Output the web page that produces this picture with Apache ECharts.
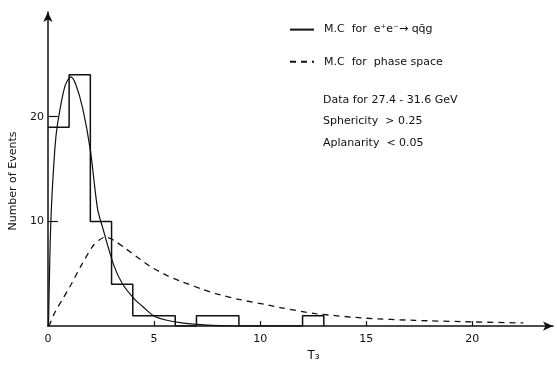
<!DOCTYPE html>
<html>
<head>
<meta charset="utf-8">
<script src="https://cdn.jsdelivr.net/npm/echarts@6/dist/echarts.min.js"></script>
<style>
  html, body { margin: 0; padding: 0; background: #fff; }
  #chart { width: 557px; height: 367px; }
</style>
</head>
<body>
<div id="chart"></div>
<script>
// T3 histogram: bin edges and event counts per bin
const binEdges = [0, 1, 2, 3, 4, 5, 6, 7, 8, 9, 10, 11, 12, 13];
const binCounts = [19, 24, 10, 4, 1, 1, 0, 1, 1, 0, 0, 0, 1];

// Monte Carlo prediction for e+e- -> q qbar g
const qqgT3 = [0.03, 0.14, 0.33, 0.47, 0.8, 1.08, 1.31, 1.64, 2.0, 2.34, 2.58, 3.09, 3.51, 4.07, 4.45, 5.06, 6.3, 7.5, 9];
const qqgN  = [0, 10, 17, 19.5, 22.9, 23.8, 23.1, 20.8, 16.8, 11.2, 9.4, 5.9, 4.05, 2.6, 1.9, 0.9, 0.3, 0.1, 0];

// Monte Carlo prediction for phase space
const psT3 = [0.05, 0.35, 0.7, 1.1, 1.6, 2.1, 2.4, 2.7, 3.1, 3.6, 4.2, 4.9, 5.6, 6.3, 7.3, 7.9, 9.0, 10.4, 11.0, 12.6, 15.0, 17.3, 20.0, 22.4];
const psN  = [0, 1.4, 2.6, 4.0, 5.9, 7.6, 8.2, 8.5, 8.2, 7.5, 6.6, 5.6, 4.85, 4.25, 3.5, 3.1, 2.55, 2.0, 1.75, 1.2, 0.75, 0.55, 0.4, 0.3];

// Axis tick labels
const xTickLabels = [0, 5, 10, 15, 20];
const yTickLabels = [10, 20];

const seriesNames = ['M.C  for  e\u207Ae\u207B\u2192 qq\u0304g', 'M.C  for  phase space'];
const infoLines = ['Data for 27.4 - 31.6 GeV', 'Sphericity  > 0.25', 'Aplanarity  < 0.05'];

const ink = '#111';
const font = 'DejaVu Sans';

// step outline of the histogram: one point at each bin's left edge, closed at the last edge
const histPoints = binCounts.map((c, i) => [binEdges[i], c]);
histPoints.push([binEdges[binEdges.length - 1], 0]);

const zip = (xs, ys) => xs.map((x, i) => [x, ys[i]]);

const chart = echarts.init(document.getElementById('chart'), null, { renderer: 'canvas' });
chart.setOption({
  animation: false,
  backgroundColor: '#fff',
  textStyle: { fontFamily: font, color: ink },
  grid: { left: 45, top: 12, right: 4, bottom: 37, containLabel: false },
  title: {
    text: infoLines.join('\n'),
    left: 323, top: 89, padding: 0,
    textStyle: { fontFamily: font, fontSize: 11, fontWeight: 'normal', color: ink, lineHeight: 21.5 }
  },
  legend: {
    data: seriesNames,
    orient: 'vertical',
    left: 284, top: 19,
    itemWidth: 24, itemHeight: 14, itemGap: 21,
    itemStyle: { opacity: 0 },
    textStyle: { fontFamily: font, fontSize: 11, color: ink, padding: [0, 0, 0, 5] }
  },
  xAxis: {
    type: 'value', min: 0, max: 23.8,
    name: 'T\u2083', nameLocation: 'middle', nameGap: 21,
    nameTextStyle: { fontFamily: font, fontSize: 12, color: ink, padding: [0, 0, 0, 26] },
    axisLine: { lineStyle: { color: ink, width: 1.5 }, symbol: ['none', 'arrow'], symbolSize: [7, 10] },
    axisTick: { inside: true, length: 5, customValues: [5, 10, 15, 20], lineStyle: { color: ink, width: 1.2 } },
    axisLabel: { customValues: xTickLabels, fontSize: 11, color: ink, margin: 8 },
    splitLine: { show: false }
  },
  yAxis: {
    type: 'value', min: 0, max: 30,
    name: 'Number of Events', nameLocation: 'middle', nameGap: 24, nameRotate: 90,
    nameTextStyle: { fontFamily: font, fontSize: 11, color: ink, padding: [0, 24, 0, 0] },
    axisLine: { lineStyle: { color: ink, width: 1.5 }, symbol: ['none', 'arrow'], symbolSize: [7, 10] },
    axisTick: { inside: true, length: 10, customValues: [10, 20], lineStyle: { color: ink, width: 1.2 } },
    axisLabel: { customValues: yTickLabels, fontSize: 11, color: ink, margin: 4 },
    splitLine: { show: false }
  },
  series: [
    {
      name: 'data',
      type: 'line', step: 'end', showSymbol: false, silent: true,
      data: histPoints,
      lineStyle: { color: ink, width: 1.5 }
    },
    {
      name: seriesNames[0],
      type: 'line', smooth: 0.3, showSymbol: false, symbol: 'none',
      data: zip(qqgT3, qqgN),
      lineStyle: { color: ink, width: 1.2 },
      itemStyle: { color: ink }
    },
    {
      name: seriesNames[1],
      type: 'line', smooth: 0.25, showSymbol: false, symbol: 'none',
      data: zip(psT3, psN),
      lineStyle: { color: ink, width: 1.3, type: [6, 5] },
      itemStyle: { color: ink }
    }
  ]
});
</script>
</body>
</html>
